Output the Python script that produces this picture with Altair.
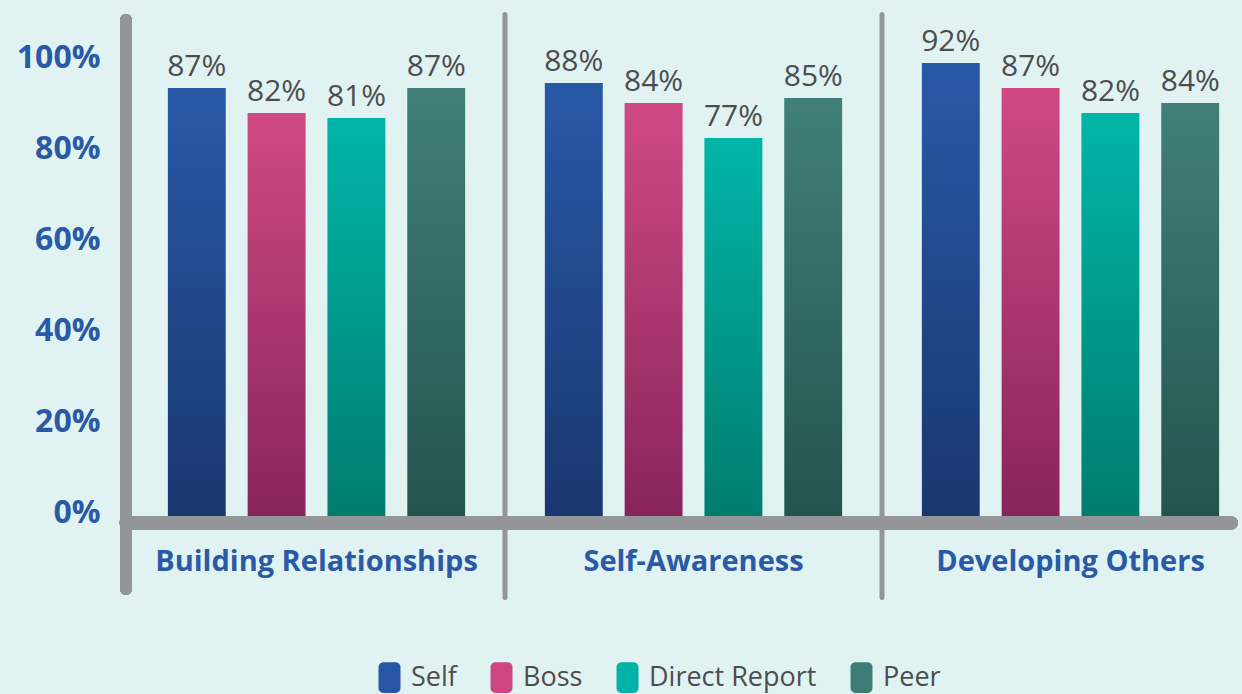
import altair as alt
import pandas as pd

# ---------------- data ----------------
categories = ["Building Relationships", "Self-Awareness", "Developing Others"]
series = ["Self", "Boss", "Direct Report", "Peer"]
self_vals = [87, 88, 92]
boss_vals = [82, 84, 87]
direct_vals = [81, 77, 82]
peer_vals = [87, 85, 84]
y_ticks = [0, 20, 40, 60, 80, 100]

solid_colors = ["#2757a4", "#cd4683", "#00b3a6", "#3e7d75"]
top_colors = ["#2859a7", "#d04985", "#00b6a8", "#408078"]
bottom_colors = ["#1a366f", "#86245a", "#007b6e", "#23534d"]

rows = []
for s, vals in zip(series, [self_vals, boss_vals, direct_vals, peer_vals]):
    for c, v in zip(categories, vals):
        rows.append({"category": c, "series": s, "value": v, "label": f"{v}%"})
df = pd.DataFrame(rows)
sep_df = pd.DataFrame({"category": categories[1:]})
tick_df = pd.DataFrame({"tick": y_ticks})

FONT = "Open Sans"
BLUE = "#2a5aa6"
GRAY = "#949599"
TEXT = "#4d4d4f"

x_axis = alt.Axis(
    title=None, domain=False, ticks=False, grid=False, labelAngle=0,
    labelFont=FONT, labelFontSize=29, labelFontWeight="bold", labelColor=BLUE,
    labelPadding=47, labelBaseline="alphabetic", labelLimit=0,
)
x_scale = alt.Scale(range=[1, 1132], paddingInner=0, paddingOuter=0)


def X():
    return alt.X("category:N", sort=categories, scale=x_scale, axis=x_axis)


def XO():
    return alt.XOffset("series:N", sort=series,
                       scale=alt.Scale(paddingInner=0.279, paddingOuter=0.5))


def Y():
    return alt.Y("value:Q", scale=alt.Scale(domain=[0, 100], nice=False), axis=None)


rounded = ("M-0.55,-1.4 H0.55 A0.45,0.45 0 0 1 1,-0.95 V0.95 "
           "A0.45,0.45 0 0 1 0.55,1.4 H-0.55 A0.45,0.45 0 0 1 -1,0.95 "
           "V-0.95 A0.45,0.45 0 0 1 -0.55,-1.4 Z")

base_bars = alt.Chart(df).mark_bar().encode(
    x=X(), xOffset=XO(), y=Y(),
    color=alt.Color(
        "series:N", sort=series,
        scale=alt.Scale(domain=series, range=solid_colors),
        legend=alt.Legend(
            orient="none", legendX=249, legendY=641, direction="horizontal",
            title=None, symbolType=rounded, symbolSize=484, symbolStrokeWidth=0,
            symbolOpacity=1, labelFont=FONT, labelFontSize=27, labelColor=TEXT,
            labelOffset=8, columnPadding=31, padding=0, labelLimit=0,
        ),
    ),
)

grad_layers = []
for s, top, bot in zip(series, top_colors, bottom_colors):
    grad = alt.Gradient(
        gradient="linear",
        stops=[alt.GradientStop(color=top, offset=0),
               alt.GradientStop(color=bot, offset=1)],
        x1=0, x2=0, y1=0, y2=1,
    )
    grad_layers.append(
        alt.Chart(df).transform_filter(alt.datum.series == s)
        .mark_bar(color=grad)
        .encode(x=X(), xOffset=XO(), y=Y())
    )

labels = alt.Chart(df).mark_text(
    font=FONT, fontSize=30, color=TEXT, baseline="alphabetic", dy=-12
).encode(x=X(), xOffset=XO(), y=Y(), text="label:N")

separators = alt.Chart(sep_df).mark_rule(
    color=GRAY, strokeWidth=5, strokeCap="round"
).encode(
    x=alt.X("category:N", sort=categories, scale=x_scale, axis=x_axis, bandPosition=0),
    y=alt.value(-8.5), y2=alt.value(574.5),
)

left_line = alt.Chart(tick_df).mark_rule(
    color=GRAY, strokeWidth=12, strokeCap="round"
).encode(x=alt.value(-1), y=alt.value(-3), y2=alt.value(566))

base_line = alt.Chart(tick_df).mark_rule(
    color=GRAY, strokeWidth=13, strokeCap="round"
).encode(x=alt.value(-1), x2=alt.value(1104.5), y=alt.value(500))

y_axis_layer = alt.Chart(tick_df).mark_point(opacity=0).encode(
    y=alt.Y(
        "tick:Q",
        scale=alt.Scale(domain=[-2.31, 107.58], nice=False, zero=False),
        axis=alt.Axis(
            orient="left", values=y_ticks, labelExpr="datum.value + '%'",
            title=None, domain=False, ticks=False, grid=False,
            labelFont=FONT, labelFontSize=32, labelFontWeight="bold",
            labelColor=BLUE, labelPadding=27, labelBaseline="middle",
        ),
    )
)

chart = alt.layer(
    base_bars, *grad_layers, labels, separators, left_line, base_line, y_axis_layer
).resolve_scale(y="independent").properties(
    width=1115, height=500,
    background="#e1f2f2",
    padding={"left": 127, "top": 23, "right": 0, "bottom": 171},
    autosize=alt.AutoSizeParams(type="none"),
).configure_view(stroke=None)

chart.save("out.html", embed_options={"renderer": "svg", "actions": False})
